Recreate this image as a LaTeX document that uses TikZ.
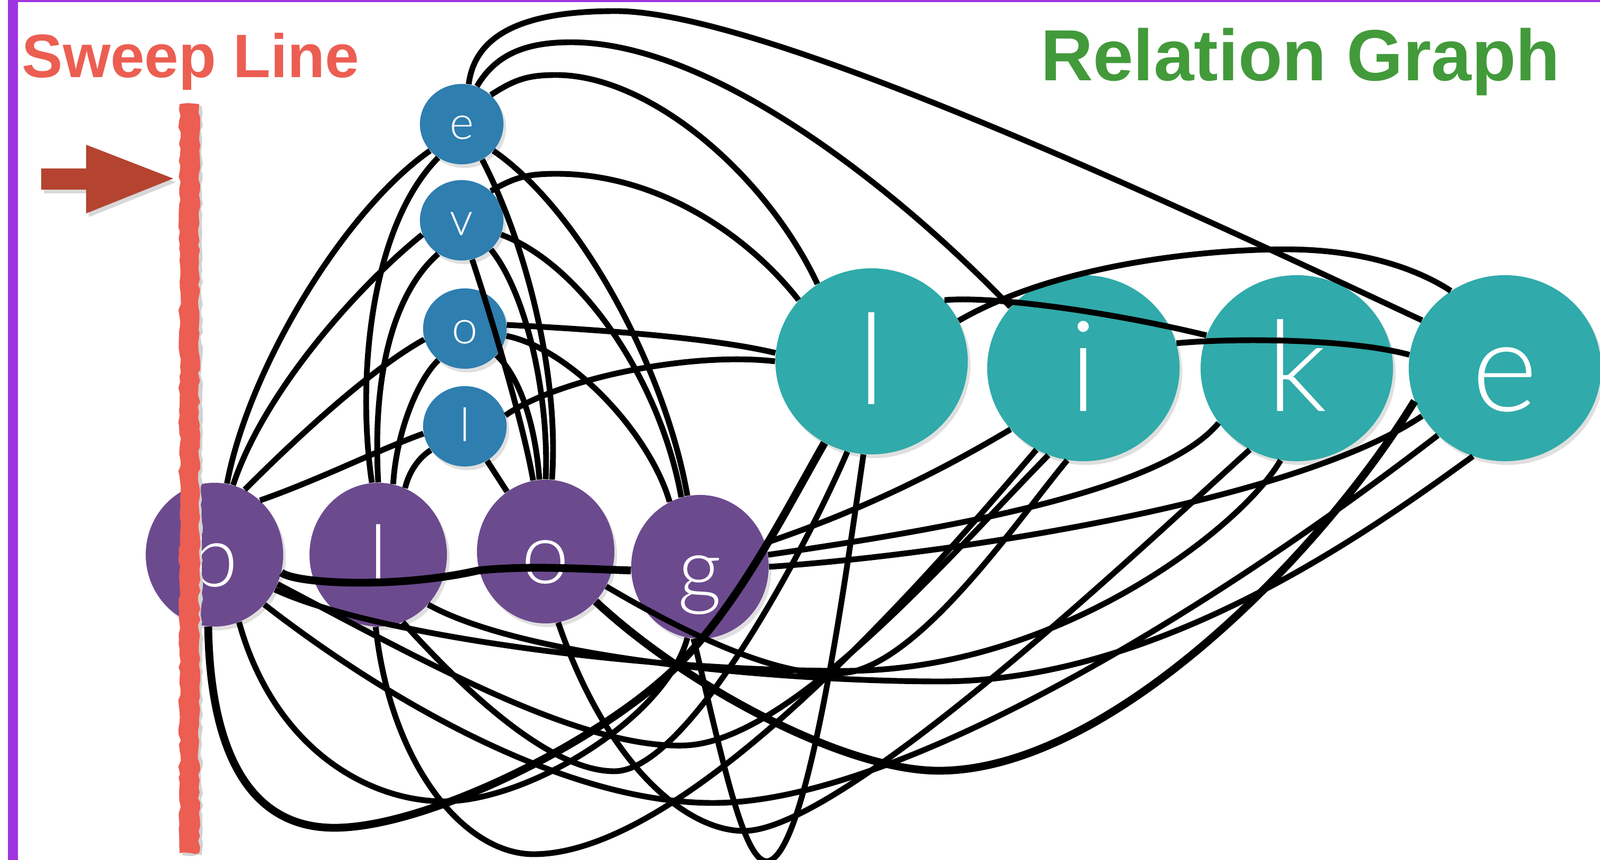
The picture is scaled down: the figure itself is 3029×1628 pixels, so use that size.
\documentclass[tikz,border=0pt]{standalone}
\usepackage{fontspec}
\setmainfont{Liberation Sans}
\IfFontExistsTF{Lato Light}{\newfontfamily\thinfont{Lato Light}}{\newfontfamily\thinfont{Lato}}
\usetikzlibrary{shapes.geometric,shadows,decorations.pathmorphing}
\pgfdeclarelayer{bg}
\pgfsetlayers{bg,main}
\definecolor{purp}{HTML}{6C4A8E}
\definecolor{bluen}{HTML}{2E7EB0}
\definecolor{tealn}{HTML}{30AAAA}
\definecolor{sweepred}{HTML}{EC5E52}
\definecolor{arrowred}{HTML}{B44430}
\definecolor{titlegreen}{HTML}{429A3A}
\definecolor{framepurple}{HTML}{A034E0}
\tikzset{
  nd/.style={ellipse, inner sep=0pt, text=white, drop shadow={opacity=0.25, shadow xshift=0.05cm, shadow yshift=-0.07cm}},
  pn/.style={nd, fill=purp, minimum width=2.6cm, minimum height=2.72cm, font=\thinfont\fontsize{46}{46}\selectfont, text height=1.2cm, text depth=0pt},
  bn/.style={nd, fill=bluen, minimum width=1.58cm, minimum height=1.52cm, font=\thinfont\fontsize{25}{25}\selectfont, text height=0.56cm, text depth=0pt},
  tn/.style={nd, fill=tealn, minimum width=3.64cm, minimum height=3.52cm, font=\thinfont\fontsize{68}{68}\selectfont, text height=1.62cm, text depth=0pt},
  lnk/.style={line width=3.1pt, black},
  thk/.style={line width=4.2pt, black},
  ttl/.style={anchor=base west, inner sep=0pt, font=\bfseries\fontsize{#1}{#1}\selectfont},
  rough/.style={decorate, decoration={random steps, segment length=3pt, amplitude=0.7pt}},
}
\begin{document}
\begin{tikzpicture}[x=0.01cm, y=-0.01cm]
\useasboundingbox (0,0) rectangle (3029,1628);
\fill[white] (0,0) rectangle (3029,1628);
% frame
\fill[framepurple] (15,0) rectangle (34,1628);
\fill[framepurple] (15,0) rectangle (3029,4);
% titles
\node[ttl=33, text=sweepred] (sweeptitle) at (41,147) {Sweep Line};
\node[ttl=39, text=titlegreen] (graphtitle) at (1970,153) {Relation Graph};
% arrow
\fill[arrowred, drop shadow={opacity=0.3, shadow xshift=0.05cm, shadow yshift=-0.07cm}]
  (78,319) -- (163,319) -- (163,274) -- (328,338) -- (163,404) -- (163,359) -- (78,359) -- cycle;

% nodes
\node[pn] (B) at (406,1050) {b};
\node[pn] (L) at (716,1050) {l};
\node[pn] (O) at (1033,1044) {o};
\node[pn] (G) at (1325,1073) {g};
\node[bn] (E) at (874,235) {e};
\node[bn] (V) at (874,417) {v};
\node[bn] (O2) at (880,622) {o};
\node[bn] (L2) at (880,807) {l};
\node[tn] (TL) at (1650,684) {l};
\node[tn] (TI) at (2051,697) {i};
\node[tn] (TK) at (2455,697) {k};
\node[tn] (TE) at (2849,697) {e};

% edges behind the nodes
\begin{pgfonlayer}{bg}
\draw[lnk] (E) -- (V);
\draw[lnk] (V) -- (O2);
\draw[lnk] (O2) -- (L2);
\draw[lnk] (B.4) -- (L.176);
\draw[lnk] (B.-3) -- (O.183);
\draw[lnk] (L.4) -- (O.177);
\draw[lnk] (L.-2) -- (G.178);
\draw[lnk] (O.-5) -- (G.176);
\draw[lnk] (TL.-2) -- (TI.180);
\draw[lnk] (TI) -- (TK);
\draw[lnk] (TK) -- (TE);
\end{pgfonlayer}

% top arcs
\draw[lnk] (E.80) .. controls (900,60) and (1000,21) .. (1166,21) .. controls (1450,21) and (2250,400) .. (TE.150);
\draw[lnk] (E.68) .. controls (940,100) and (1000,80) .. (1081,80) .. controls (1350,80) and (1700,360) .. (TI.140);
\draw[lnk] (E.45) .. controls (975,150) and (1000,142) .. (1053,142) .. controls (1230,142) and (1450,330) .. (TL.125);
\draw[lnk] (V.45) .. controls (975,335) and (1000,329) .. (1053,329) .. controls (1250,329) and (1420,450) .. (TL.140);

% blue column to purple row (right side)
\draw[lnk] (E.-40) .. controls (1100,400) and (1260,700) .. (G.100);
\draw[lnk] (V.-20) .. controls (1100,500) and (1250,720) .. (G.105);
\draw[lnk] (O2.-10) .. controls (1080,660) and (1230,820) .. (G.115);
\draw[lnk] (E.-60) .. controls (990,450) and (1060,700) .. (O.85);
\draw[lnk] (V.-75) .. controls (930,600) and (990,800) .. (O.100);
\draw[lnk] (V.-45) .. controls (1000,560) and (1040,760) .. (O.90);
\draw[lnk] (O2.-40) .. controls (990,720) and (1015,820) .. (O.95);
\draw[lnk] (L2) -- (O);

% blue column to purple row (left side)
\draw[lnk] (B.80) .. controls (470,700) and (650,400) .. (E.220);
\draw[lnk] (B.75) .. controls (500,740) and (680,540) .. (V.200);
\draw[lnk] (B.65) .. controls (560,830) and (700,700) .. (O2.195);
\draw[lnk] (B.50) .. controls (600,910) and (720,850) .. (L2.190);
\draw[lnk] (L.95) .. controls (675,720) and (700,430) .. (E.235);
\draw[lnk] (L.90) .. controls (705,720) and (740,560) .. (V.235);
\draw[lnk] (L.78) .. controls (750,820) and (790,720) .. (O2.230);
\draw[lnk] (L.68) .. controls (775,890) and (795,865) .. (L2.215);

% blue column to teal row
\draw[lnk] (O2.5) .. controls (1150,625) and (1350,640) .. (TL.175);
\draw[lnk] (L2.15) .. controls (1050,720) and (1300,665) .. (TL.180);

% teal row arcs
\draw[lnk] (TL.25) .. controls (2000,500) and (2280,472) .. (2433,472) .. controls (2600,472) and (2700,520) .. (TE.125);
\draw[lnk] (TL.40) .. controls (1880,560) and (2100,590) .. (TK.160);
\draw[lnk] (TI.15) .. controls (2330,640) and (2550,640) .. (TE.172);

% purple row: b to g over l and o
\draw[thk] (B.-15) .. controls (560,1105) and (750,1115) .. (905,1080) .. controls (1000,1070) and (1100,1077) .. (G.183);

% g to teal
\draw[lnk] (G.20) .. controls (1650,960) and (1800,880) .. (TI.-140);
\draw[lnk] (G.10) .. controls (1800,1000) and (2200,930) .. (TK.-145);
\draw[lnk] (G.0) .. controls (1800,1050) and (2450,950) .. (TE.-150);

% bottom loops
\draw[thk] (B.-95) .. controls (398,1420) and (470,1567) .. (633,1567) .. controls (800,1567) and (1100,1420) .. (1250,1290) .. controls (1380,1180) and (1480,980) .. (TL.-120);
\draw[lnk] (B.-70) .. controls (520,1420) and (700,1517) .. (840,1517) .. controls (1000,1517) and (1260,1360) .. (G.-100);
\draw[lnk] (B.-45) .. controls (700,1300) and (1050,1520) .. (1350,1520) .. controls (1700,1520) and (2300,1150) .. (TE.-135);
\draw[lnk] (B.-25) .. controls (800,1250) and (1100,1420) .. (1300,1411) .. controls (1500,1400) and (1800,1050) .. (TI.-112);
\draw[lnk] (L.-92) .. controls (740,1450) and (880,1617) .. (1010,1617) .. controls (1300,1617) and (1750,1100) .. (TI.-120);
\draw[lnk] (L.-70) .. controls (900,1330) and (1050,1460) .. (1163,1460) .. controls (1300,1460) and (1520,1050) .. (TL.-105);
\draw[lnk] (O.-80) .. controls (1150,1450) and (1300,1573) .. (1408,1573) .. controls (1600,1573) and (2200,1000) .. (TK.-120);
\draw[lnk] (O.-30) .. controls (1300,1200) and (1500,1300) .. (1620,1270) .. controls (1760,1230) and (1930,980) .. (TI.-100);
\draw[lnk] (G.-95) .. controls (1370,1450) and (1410,1640) .. (1455,1630) .. controls (1530,1610) and (1600,1100) .. (TL.-95);
\draw[thk] (O.-45) .. controls (1300,1300) and (1600,1459) .. (1777,1459) .. controls (2100,1459) and (2500,1050) .. (TE.-160);
\draw[lnk] (L.-45) .. controls (1000,1250) and (1500,1290) .. (1780,1290) .. controls (2200,1290) and (2600,1000) .. (TE.-110);
\draw[lnk] (B.-30) .. controls (700,1200) and (1200,1270) .. (1600,1270) .. controls (2000,1270) and (2350,1000) .. (TK.-100);

% sweep line, drawn over the b node
\fill[gray!35, rough] (345,201) rectangle (382,1619);
\fill[sweepred, rough] (340,197) rectangle (377,1615);
\end{tikzpicture}
\end{document}
